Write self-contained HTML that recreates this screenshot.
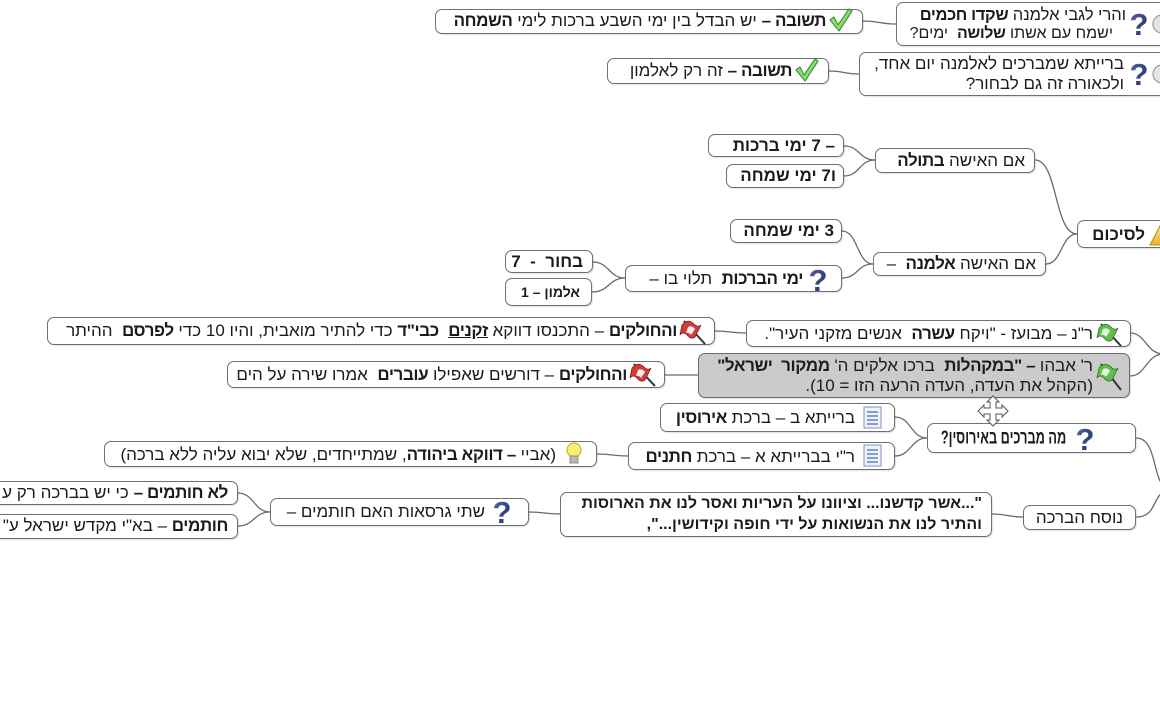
<!DOCTYPE html>
<html lang="he">
<head>
<meta charset="utf-8">
<style>
  html,body{margin:0;padding:0;background:#fff;}
  #c{position:relative;width:1160px;height:720px;overflow:hidden;background:#fff;
     font-family:"Liberation Sans","DejaVu Sans",sans-serif;color:#1b1b1b;}
  .b{position:absolute;box-sizing:border-box;border:1.4px solid #6f6f6f;border-radius:7px;
     background:#fff;box-shadow:1px 1px 1px rgba(0,0,0,0.12);}
  .g{background:#cbcbcb;border-color:#6a6a6a;}
  .t{position:absolute;direction:rtl;white-space:nowrap;font-size:17px;line-height:20px;text-align:right;}
  .t b{letter-spacing:-0.4px;}
  .bb{font-weight:bold;}
  svg{position:absolute;left:0;top:0;}
</style>
</head>
<body>
<div id="c">

<!-- connectors -->
<svg width="1160" height="720" viewBox="0 0 1160 720" fill="none" stroke="#6a6a6a" stroke-width="1.3">
  <path d="M863 21 C880 21 879 24 896 24"/>
  <path d="M829 71 C845 71 843 74 859 74"/>
  <path d="M844 146 C860 146 859 160 875 160"/>
  <path d="M844 176 C860 176 859 160 875 160"/>
  <path d="M1035 160 C1058 160 1054 234 1077 234"/>
  <path d="M1046 264 C1062 264 1061 234 1077 234"/>
  <path d="M842 231 C858 231 857 264 873 264"/>
  <path d="M842 278 C858 278 857 264 873 264"/>
  <path d="M593 262 C609 262 609 278 625 278"/>
  <path d="M592 292 C609 292 609 278 625 278"/>
  <path d="M715 331 C731 331 730 333 746 333"/>
  <path d="M665 375 C682 375 681 375 698 375"/>
  <path d="M1130 333 C1146 333 1146 354 1164 354"/>
  <path d="M1130 376 C1146 376 1146 354 1164 354"/>
  <path d="M895 417 C911 417 911 438 927 438"/>
  <path d="M895 456 C911 456 911 438 927 438"/>
  <path d="M597 454 C613 454 612 456 628 456"/>
  <path d="M1136 438 C1160 438 1150 490 1172 490"/>
  <path d="M1136 517 C1160 517 1150 490 1172 490"/>
  <path d="M529 512 C545 512 544 514 560 514"/>
  <path d="M992 514 C1008 514 1007 517 1023 517"/>
  <path d="M238 493 C254 493 254 512 270 512"/>
  <path d="M238 526 C254 526 254 512 270 512"/>
</svg>

<!-- boxes -->
<div class="b" style="left:896px;top:2px;width:280px;height:44px"></div>
<div class="b" style="left:435px;top:9px;width:428px;height:25px"></div>
<div class="b" style="left:859px;top:52px;width:320px;height:44px"></div>
<div class="b" style="left:607px;top:58px;width:222px;height:26px"></div>

<div class="b" style="left:1077px;top:220px;width:100px;height:28px"></div>
<div class="b" style="left:875px;top:148px;width:160px;height:25px"></div>
<div class="b" style="left:708px;top:134px;width:136px;height:23px"></div>
<div class="b" style="left:726px;top:164px;width:118px;height:24px"></div>
<div class="b" style="left:730px;top:219px;width:112px;height:24px"></div>
<div class="b" style="left:873px;top:252px;width:173px;height:24px"></div>
<div class="b" style="left:625px;top:265px;width:217px;height:27px"></div>
<div class="b" style="left:505px;top:250px;width:88px;height:23px"></div>
<div class="b" style="left:505px;top:278px;width:87px;height:28px"></div>

<div class="b" style="left:746px;top:320px;width:385px;height:27px"></div>
<div class="b g" style="left:698px;top:353px;width:432px;height:45px"></div>
<div class="b" style="left:47px;top:317px;width:668px;height:28px"></div>
<div class="b" style="left:227px;top:361px;width:438px;height:27px"></div>

<div class="b" style="left:927px;top:423px;width:209px;height:30px"></div>
<div class="b" style="left:660px;top:403px;width:235px;height:29px"></div>
<div class="b" style="left:628px;top:442px;width:267px;height:28px"></div>
<div class="b" style="left:104px;top:441px;width:493px;height:26px"></div>

<div class="b" style="left:1023px;top:505px;width:113px;height:25px"></div>
<div class="b" style="left:560px;top:492px;width:432px;height:45px"></div>
<div class="b" style="left:270px;top:498px;width:259px;height:28px"></div>
<div class="b" style="left:-20px;top:481px;width:258px;height:24px"></div>
<div class="b" style="left:-20px;top:514px;width:258px;height:25px"></div>

<!-- texts -->
<div class="t" style="right:34px;top:5px;font-size:16.5px;">והרי לגבי אלמנה <b>שקדו חכמים</b></div>
<div class="t" style="right:47px;top:24px;font-size:16px;">ישמח עם אשתו <b>שלושה</b>&nbsp; ימים?</div>
<div class="t" style="right:334px;top:11px;"><b>תשובה –</b> יש הבדל בין ימי השבע ברכות לימי <b>השמחה</b></div>

<div class="t" style="right:36px;top:54px;">ברייתא שמברכים לאלמנה יום אחד,</div>
<div class="t" style="right:36px;top:74px;">ולכאורה זה גם לבחור?</div>
<div class="t" style="right:368px;top:61px;"><b>תשובה –</b> זה רק לאלמון</div>

<div class="t bb" style="right:15px;top:225px;">לסיכום</div>
<div class="t" style="right:135px;top:151px;">אם האישה <b>בתולה</b></div>
<div class="t bb" style="right:325px;top:136px;">– 7 ימי ברכות</div>
<div class="t bb" style="right:324px;top:166px;">ו7 ימי שמחה</div>
<div class="t bb" style="right:326px;top:221px;">3 ימי שמחה</div>
<div class="t" style="right:124px;top:254px;">אם האישה <b>אלמנה</b>&nbsp; –</div>
<div class="t" style="right:357px;top:269px;"><b>ימי הברכות</b>&nbsp; תלוי בו –</div>
<div class="t bb" style="right:577px;top:252px;">בחור&nbsp; -&nbsp; 7</div>
<div class="t bb" style="right:580px;top:282px;font-size:14px;">אלמון – 1</div>

<div class="t" style="right:67px;top:324px;">ר"נ – מבועז - "ויקח <b>עשרה</b>&nbsp; אנשים מזקני העיר".</div>
<div class="t" style="right:67px;top:356px;">ר' אבהו <b>– "במקהלות</b>&nbsp; ברכו אלקים ה' <b>ממקור&nbsp; ישראל"</b></div>
<div class="t" style="right:67px;top:376px;">(הקהל את העדה, העדה הרעה הזו = 10).</div>
<div class="t" style="right:483px;top:321px;"><b>והחולקים</b> – התכנסו דווקא <b><u>זקנים</u></b>&nbsp; <b>כבי"ד</b> כדי להתיר מואבית, והיו 10 כדי <b>לפרסם</b>&nbsp; ההיתר</div>
<div class="t" style="right:533px;top:365px;"><b>והחולקים</b> – דורשים שאפילו <b>עוברים</b>&nbsp; אמרו שירה על הים</div>

<div class="t bb" style="right:94px;top:428px;font-size:17px;transform:scale(0.75,1.1);transform-origin:right center;">מה מברכים באירוסין?</div>
<div class="t" style="right:305px;top:408px;">ברייתא ב – ברכת <b>אירוסין</b></div>
<div class="t" style="right:305px;top:447px;">ר"י בברייתא א – ברכת <b>חתנים</b></div>
<div class="t" style="right:604px;top:445px;">(אביי <b>– דווקא ביהודה</b>, שמתייחדים, שלא יבוא עליה ללא ברכה)</div>

<div class="t" style="right:37px;top:508px;">נוסח הברכה</div>
<div class="t bb" style="right:178px;top:494px;font-size:16px;">"...אשר קדשנו... וציוונו על העריות ואסר לנו את הארוסות</div>
<div class="t bb" style="right:178px;top:515px;font-size:16px;">והתיר לנו את הנשואות על ידי חופה וקידושין...",</div>
<div class="t" style="right:675px;top:502px;">שתי גרסאות האם חותמים –</div>
<div class="t" style="right:932px;top:483px;"><b>לא חותמים –</b> כי יש בברכה רק ע</div>
<div class="t" style="right:932px;top:516px;"><b>חותמים</b> – בא"י מקדש ישראל ע"</div>

<!-- icons -->
<svg width="1160" height="720" viewBox="0 0 1160 720">
  <defs>
    <linearGradient id="qg" x1="0" y1="0" x2="1" y2="1">
      <stop offset="0" stop-color="#5a6fb0"/><stop offset="1" stop-color="#15225a"/>
    </linearGradient>
    <linearGradient id="tg" x1="0" y1="0" x2="0" y2="1">
      <stop offset="0" stop-color="#fbe58a"/><stop offset="1" stop-color="#eab22e"/>
    </linearGradient>
  </defs>
  <g font-family="Liberation Sans, DejaVu Sans, sans-serif" font-weight="bold" font-size="31" fill="url(#qg)" text-anchor="middle">
    <text x="1139" y="35">?</text>
    <text x="1139" y="85">?</text>
    <text x="818" y="291">?</text>
    <text x="1085" y="450">?</text>
    <text x="502" y="523">?</text>
  </g>
  <!-- partial gray circles -->
  <circle cx="1162" cy="24" r="9" fill="#e4e4e4" stroke="#9a9a9a" stroke-width="1.2"/>
  <circle cx="1162" cy="74" r="9" fill="#e4e4e4" stroke="#9a9a9a" stroke-width="1.2"/>
  <!-- check marks -->
  <g fill="#8fdc7a" stroke="#3d9a35" stroke-width="1.2" stroke-linejoin="round">
    <path d="M830 20 L834 17 L838 25 L849 9 L852 11 L839 31 Z"/>
    <path d="M796 70 L800 67 L804 75 L815 59 L818 61 L805 81 Z"/>
  </g>
  <!-- warning triangle -->
  <path d="M1150 245 L1160 226 L1170 245 Z" fill="url(#tg)" stroke="#c08a12" stroke-width="1"/>
  <!-- green flags -->
  <g>
    <line x1="1101" y1="324" x2="1121" y2="346" stroke="#333" stroke-width="2"/>
    <path d="M1099 328 Q1105 321 1111 327 Q1115 331 1118 328 L1112 340 Q1108 343 1104 338 Q1100 334 1097 338 Z" fill="#5fbf4a" stroke="#2f6e27" stroke-width="0.8"/>
    <path d="M1103 329 Q1107 327 1110 331 L1106 337 Q1104 334 1101 335 Z" fill="#e8f5e2"/>
    <line x1="1101" y1="364" x2="1121" y2="390" stroke="#333" stroke-width="2"/>
    <path d="M1099 368 Q1105 361 1111 367 Q1115 371 1118 368 L1112 380 Q1108 383 1104 378 Q1100 374 1097 378 Z" fill="#5fbf4a" stroke="#2f6e27" stroke-width="0.8"/>
    <path d="M1103 369 Q1107 367 1110 371 L1106 377 Q1104 374 1101 375 Z" fill="#e8f5e2"/>
  </g>
  <!-- red flags -->
  <g>
    <line x1="684" y1="321" x2="705" y2="344" stroke="#333" stroke-width="2"/>
    <path d="M682 325 Q688 318 694 324 Q698 328 701 325 L695 337 Q691 340 687 335 Q683 331 680 335 Z" fill="#d33a3a" stroke="#7a1a1a" stroke-width="0.8"/>
    <path d="M688 327 Q692 325 695 329 L691 335 Q689 332 686 333 Z" fill="#f6eeee"/>
    <line x1="634" y1="364" x2="655" y2="386" stroke="#333" stroke-width="2"/>
    <path d="M632 368 Q638 361 644 367 Q648 371 651 368 L645 380 Q641 383 637 378 Q633 374 630 378 Z" fill="#d33a3a" stroke="#7a1a1a" stroke-width="0.8"/>
    <path d="M638 370 Q642 368 645 372 L641 378 Q639 375 636 376 Z" fill="#f6eeee"/>
  </g>
  <!-- note icons -->
  <g>
    <rect x="864" y="407" width="17" height="21" fill="#eef3fb" stroke="#7c93bf" stroke-width="1"/>
    <g stroke="#4a6fb8" stroke-width="1.3">
      <line x1="867" y1="412" x2="878" y2="412"/><line x1="867" y1="416" x2="878" y2="416"/>
      <line x1="867" y1="420" x2="878" y2="420"/><line x1="867" y1="424" x2="878" y2="424"/>
    </g>
    <rect x="864" y="445" width="17" height="21" fill="#eef3fb" stroke="#7c93bf" stroke-width="1"/>
    <g stroke="#4a6fb8" stroke-width="1.3">
      <line x1="867" y1="450" x2="878" y2="450"/><line x1="867" y1="454" x2="878" y2="454"/>
      <line x1="867" y1="458" x2="878" y2="458"/><line x1="867" y1="462" x2="878" y2="462"/>
    </g>
  </g>
  <!-- bulb -->
  <circle cx="574" cy="450" r="7" fill="#f8f06a" stroke="#b9a932" stroke-width="1"/>
  <rect x="570" y="456" width="8" height="7" fill="#b8b8b8" stroke="#777" stroke-width="0.8"/>
  <!-- move cursor -->
  <path d="M993 396 L999 402 L996 402 L996 408 L1002 408 L1002 405 L1008 411 L1002 417 L1002 414 L996 414 L996 420 L999 420 L993 426 L987 420 L990 420 L990 414 L984 414 L984 417 L978 411 L984 405 L984 408 L990 408 L990 402 L987 402 Z"
        fill="#fff" stroke="#555" stroke-width="1"/>
</svg>

</div>
</body>
</html>
